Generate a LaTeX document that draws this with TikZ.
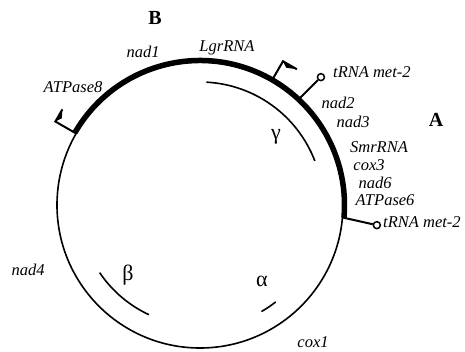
\documentclass[tikz,border=0pt]{standalone}
\usepackage{fontspec}
\setmainfont{Liberation Serif}
\usetikzlibrary{calc}
\tikzset{
  thinline/.style={line width=1.6pt},
  thickline/.style={line width=5.5pt},
  stalk/.style={line width=2pt},
  lab/.style={font=\itshape\fontsize{16.5}{16.5}\selectfont, inner sep=0pt},
  big/.style={font=\bfseries\fontsize{20}{20}\selectfont, inner sep=0pt},
  greek/.style={font=\fontsize{22}{22}\selectfont, inner sep=0pt},
  pinhead/.style={circle, draw, line width=1.5pt, fill=white, minimum size=7pt, inner sep=0pt},
}
\begin{document}
\begin{tikzpicture}[x=1pt,y=1pt]
\useasboundingbox (0,0) rectangle (465,-351);
\coordinate (C) at (200,-205);
% main circle
\draw[thinline] (C) circle[radius=143];
% thick arc
\draw[thickline] ($(C)+(150:144.5)$) arc[start angle=150, end angle=-5, radius=144.5];
% inner arcs
\draw[thinline] ($(C)+(87:123)$) arc[start angle=87, end angle=21, radius=123];
\draw[thinline] ($(C)+(214:121)$) arc[start angle=214, end angle=245, radius=121];
\draw[thinline] ($(C)+(-60:123)$) arc[start angle=-60, end angle=-52, radius=123];
% flags
\coordinate (fa1) at ($(C)+(150:143)$);
\coordinate (fb1) at ($(C)+(150:167)$);
\coordinate (ft1) at ($(fb1)+(60:14)$);
\draw[stalk] (fa1) -- (fb1) -- (ft1);
\fill (fb1) -- (ft1) -- ($(fb1)+(60:6)+(150:-4)$) -- cycle;
\coordinate (fa2) at ($(C)+(60:143)$);
\coordinate (fb2) at ($(C)+(60:166)$);
\coordinate (ft2) at ($(fb2)+(-30:16)$);
\draw[stalk] (fa2) -- (fb2) -- (ft2);
\fill (fb2) -- (ft2) -- ($(fb2)+(-30:6)+(60:-4)$) -- cycle;
% pins
\coordinate (pa1) at ($(C)+(47:143)$);
\node[pinhead] (ph1) at ($(C)+(46.6:176)$) {};
\draw[stalk] (pa1) -- (ph1);
\coordinate (pa2) at ($(C)+(-5:143)$);
\node[pinhead] (ph2) at ($(C)+(-6.5:178)$) {};
\draw[stalk] (pa2) -- (ph2);
% labels
\node[big] (B) at (155,-18) {B};
\node[big] (A) at (436,-120) {A};
\node[lab] (nad1) at (143,-52) {nad1};
\node[lab] (lgr) at (227,-48) {LgrRNA};
\node[lab] (atp8) at (73,-87) {ATPase8};
\node[lab, anchor=west] (t1) at (333,-72) {tRNA met-2};
\node[lab] (nad2) at (338,-103) {nad2};
\node[lab] (nad3) at (353,-122) {nad3};
\node[lab] (smr) at (379,-147) {SmrRNA};
\node[lab] (cox3) at (369,-165) {cox3};
\node[lab] (nad6) at (375,-183) {nad6};
\node[lab] (atp6) at (385,-200) {ATPase6};
\node[lab, anchor=west] (t2) at (383,-222) {tRNA met-2};
\node[lab] (nad4) at (28,-270) {nad4};
\node[lab] (cox1) at (313,-342) {cox1};
\node[greek] (g) at (276,-137) {γ};
\node[greek] (b) at (128,-275) {β};
\node[greek] (a) at (262,-281) {α};
\end{tikzpicture}
\end{document}
